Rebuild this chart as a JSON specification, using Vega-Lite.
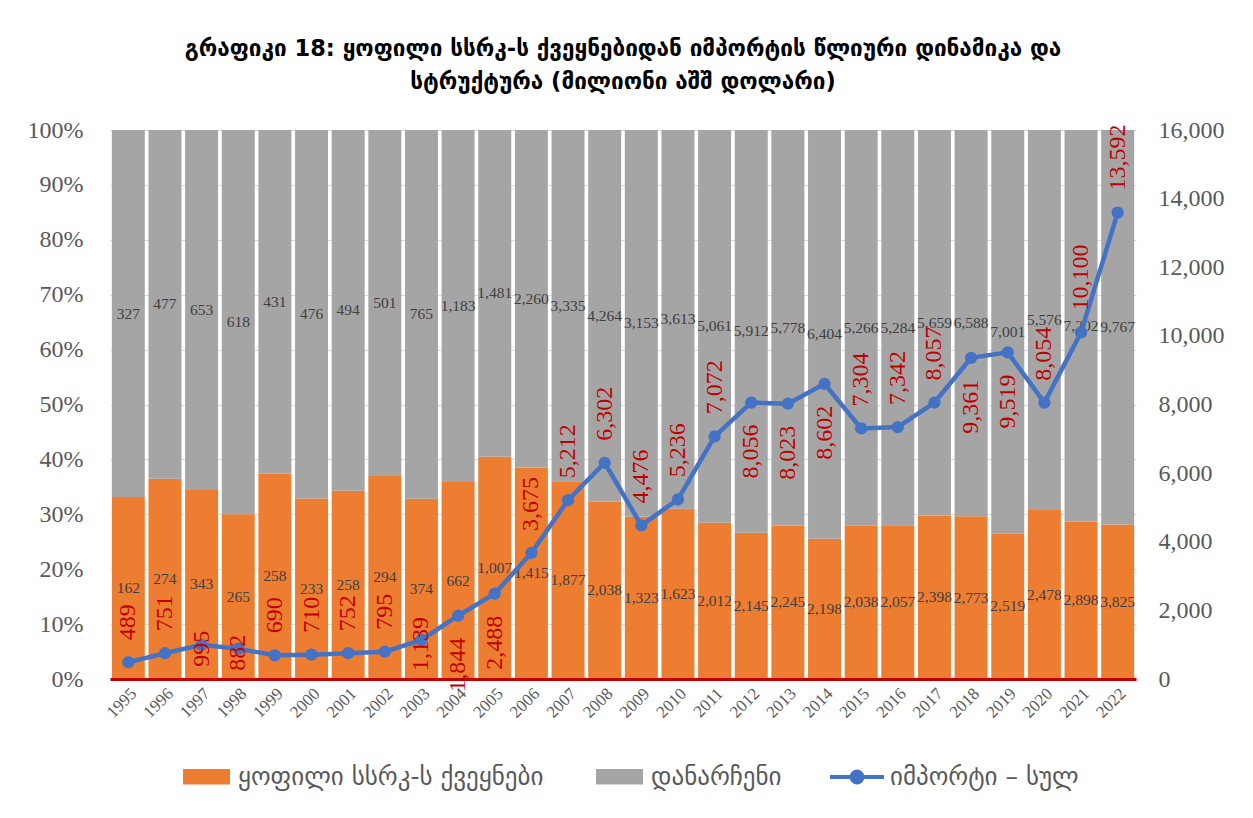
{
  "$schema": "https://vega.github.io/schema/vega-lite/v6.json",
  "autosize": {"type": "none"},
  "width": 1026,
  "height": 549,
  "padding": {"left": 110, "top": 130, "right": 117, "bottom": 139},
  "background": "white",
  "title": {
    "text": ["გრაფიკი 18: ყოფილი სსრკ-ს ქვეყნებიდან იმპორტის წლიური დინამიკა და", "სტრუქტურა (მილიონი აშშ დოლარი)"],
    "font": "DejaVu Sans",
    "fontSize": 22.5,
    "fontWeight": "bold",
    "color": "#000000",
    "lineHeight": 33,
    "anchor": "middle",
    "offset": 25
  },
  "data": {
    "values": [
      {"year": 1995, "exussr": 162, "other": 327, "total": 489},
      {"year": 1996, "exussr": 274, "other": 477, "total": 751},
      {"year": 1997, "exussr": 343, "other": 653, "total": 995},
      {"year": 1998, "exussr": 265, "other": 618, "total": 882},
      {"year": 1999, "exussr": 258, "other": 431, "total": 690},
      {"year": 2000, "exussr": 233, "other": 476, "total": 710},
      {"year": 2001, "exussr": 258, "other": 494, "total": 752},
      {"year": 2002, "exussr": 294, "other": 501, "total": 795},
      {"year": 2003, "exussr": 374, "other": 765, "total": 1139},
      {"year": 2004, "exussr": 662, "other": 1183, "total": 1844},
      {"year": 2005, "exussr": 1007, "other": 1481, "total": 2488},
      {"year": 2006, "exussr": 1415, "other": 2260, "total": 3675},
      {"year": 2007, "exussr": 1877, "other": 3335, "total": 5212},
      {"year": 2008, "exussr": 2038, "other": 4264, "total": 6302},
      {"year": 2009, "exussr": 1323, "other": 3153, "total": 4476},
      {"year": 2010, "exussr": 1623, "other": 3613, "total": 5236},
      {"year": 2011, "exussr": 2012, "other": 5061, "total": 7072},
      {"year": 2012, "exussr": 2145, "other": 5912, "total": 8056},
      {"year": 2013, "exussr": 2245, "other": 5778, "total": 8023},
      {"year": 2014, "exussr": 2198, "other": 6404, "total": 8602},
      {"year": 2015, "exussr": 2038, "other": 5266, "total": 7304},
      {"year": 2016, "exussr": 2057, "other": 5284, "total": 7342},
      {"year": 2017, "exussr": 2398, "other": 5659, "total": 8057},
      {"year": 2018, "exussr": 2773, "other": 6588, "total": 9361},
      {"year": 2019, "exussr": 2519, "other": 7001, "total": 9519},
      {"year": 2020, "exussr": 2478, "other": 5576, "total": 8054},
      {"year": 2021, "exussr": 2898, "other": 7202, "total": 10100},
      {"year": 2022, "exussr": 3825, "other": 9767, "total": 13592}
    ]
  },
  "encoding": {
    "x": {
      "field": "year",
      "type": "ordinal",
      "scale": {"paddingInner": 0.1, "paddingOuter": 0.05},
      "axis": {
        "title": null,
        "labelAngle": -45,
        "labelFont": "Liberation Serif",
        "labelFontSize": 17,
        "labelColor": "#595959",
        "ticks": false,
        "domainColor": "#C00000",
        "domainWidth": 3,
        "labelPadding": 6,
        "zindex": 1
      }
    }
  },
  "layer": [
    {
      "layer": [
        {
          "transform": [{"fold": ["exussr", "other"], "as": ["key", "value"]}],
          "mark": {"type": "bar"},
          "encoding": {
            "y": {
              "field": "value",
              "type": "quantitative",
              "stack": "normalize",
              "scale": {"domain": [0, 1]},
              "axis": {
                "title": null,
                "orient": "left",
                "values": [0, 0.1, 0.2, 0.3, 0.4, 0.5, 0.6, 0.7, 0.8, 0.9, 1],
                "format": ".0%",
                "labelFont": "Liberation Serif",
                "labelFontSize": 24,
                "labelColor": "#595959",
                "grid": true,
                "gridColor": "#D9D9D9",
                "domain": false,
                "ticks": false,
                "labelPadding": 27
              }
            },
            "color": {
              "field": "key",
              "type": "nominal",
              "scale": {"domain": ["exussr", "other"], "range": ["#ED7D31", "#A5A5A5"]},
              "legend": {
                "title": null,
                "orient": "none",
                "legendX": 73,
                "legendY": 623,
                "direction": "horizontal",
                "symbolType": "M-1,-0.33L1,-0.33L1,0.33L-1,0.33Z",
                "symbolSize": 2209,
                "symbolStrokeWidth": 0,
                "labelFont": "DejaVu Sans",
                "labelFontSize": 25,
                "labelColor": "#595959",
                "labelOffset": 8,
                "labelLimit": 0,
                "columnPadding": 52,
                "labelExpr": "datum.value === 'exussr' ? 'ყოფილი სსრკ-ს ქვეყნები' : 'დანარჩენი'"
              }
            },
            "order": {"field": "key", "sort": "ascending"}
          }
        },
        {
          "transform": [
            {"fold": ["exussr", "exussr", "other", "other"], "as": ["key", "value"]},
            {"stack": "value", "groupby": ["year"], "sort": [{"field": "key", "order": "ascending"}], "offset": "normalize", "as": ["y0", "y1"]},
            {"window": [{"op": "min", "field": "y1", "as": "mid"}, {"op": "row_number", "as": "rn"}], "groupby": ["year", "key"], "frame": [null, null]},
            {"filter": "datum.rn === 1"}
          ],
          "mark": {"type": "text", "font": "Liberation Serif", "fontSize": 15.5, "color": "#404040", "baseline": "middle"},
          "encoding": {
            "y": {"field": "mid", "type": "quantitative"},
            "text": {"field": "value", "type": "quantitative", "format": ","}
          }
        }
      ]
    },
    {
      "layer": [
        {
          "mark": {"type": "line", "strokeWidth": 4.5},
          "encoding": {
            "y": {
              "field": "total",
              "type": "quantitative",
              "scale": {"domain": [0, 16000]},
              "axis": {
                "title": null,
                "orient": "right",
                "values": [0, 2000, 4000, 6000, 8000, 10000, 12000, 14000, 16000],
                "format": ",.0f",
                "labelFont": "Liberation Serif",
                "labelFontSize": 24,
                "labelColor": "#595959",
                "grid": false,
                "domain": false,
                "ticks": false,
                "labelPadding": 22
              }
            },
            "stroke": {
              "datum": "იმპორტი – სულ",
              "type": "nominal",
              "scale": {"range": ["#4472C4"]},
              "legend": {
                "title": null,
                "orient": "none",
                "legendX": 718,
                "legendY": 618,
                "symbolType": "M-1,0L1,0M-0.2,0A0.2,0.2,0,1,1,0.2,0A0.2,0.2,0,1,1,-0.2,0Z",
                "symbolSize": 2916,
                "symbolStrokeWidth": 4,
                "symbolFillColor": "#4472C4",
                "symbolStrokeColor": "#4472C4",
                "labelFont": "DejaVu Sans",
                "labelFontSize": 25,
                "labelColor": "#595959",
                "labelOffset": 4,
                "labelLimit": 0,
                "encode": {"symbols": {"update": {"fill": {"value": "#4472C4"}, "stroke": {"value": "#4472C4"}}}}
              }
            }
          }
        },
        {
          "mark": {"type": "point", "filled": true, "size": 150, "opacity": 1, "color": "#4472C4"},
          "encoding": {"y": {"field": "total", "type": "quantitative"}}
        },
        {
          "transform": [{"filter": {"not": {"field": "year", "oneOf": [1997, 1998, 2003, 2004, 2005, 2012, 2013, 2014, 2018, 2019]}}}],
          "mark": {"type": "text", "font": "Liberation Serif", "fontSize": 24, "color": "#C00000", "angle": 270, "align": "left", "baseline": "middle", "dx": 22},
          "encoding": {
            "y": {"field": "total", "type": "quantitative"},
            "text": {"field": "total", "type": "quantitative", "format": ","}
          }
        },
        {
          "transform": [{"filter": {"field": "year", "oneOf": [2004, 2005, 2012, 2013, 2014, 2018, 2019]}}],
          "mark": {"type": "text", "font": "Liberation Serif", "fontSize": 24, "color": "#C00000", "angle": 270, "align": "right", "baseline": "middle", "dx": -22},
          "encoding": {
            "y": {"field": "total", "type": "quantitative"},
            "text": {"field": "total", "type": "quantitative", "format": ","}
          }
        },
        {
          "transform": [{"filter": {"field": "year", "oneOf": [1997, 1998, 2003]}}],
          "mark": {"type": "text", "font": "Liberation Serif", "fontSize": 24, "color": "#C00000", "angle": 270, "align": "center", "baseline": "middle", "dx": -4},
          "encoding": {
            "y": {"field": "total", "type": "quantitative"},
            "text": {"field": "total", "type": "quantitative", "format": ","}
          }
        }
      ]
    }
  ],
  "resolve": {"scale": {"y": "independent"}},
  "config": {
    "view": {"stroke": null}
  }
}
